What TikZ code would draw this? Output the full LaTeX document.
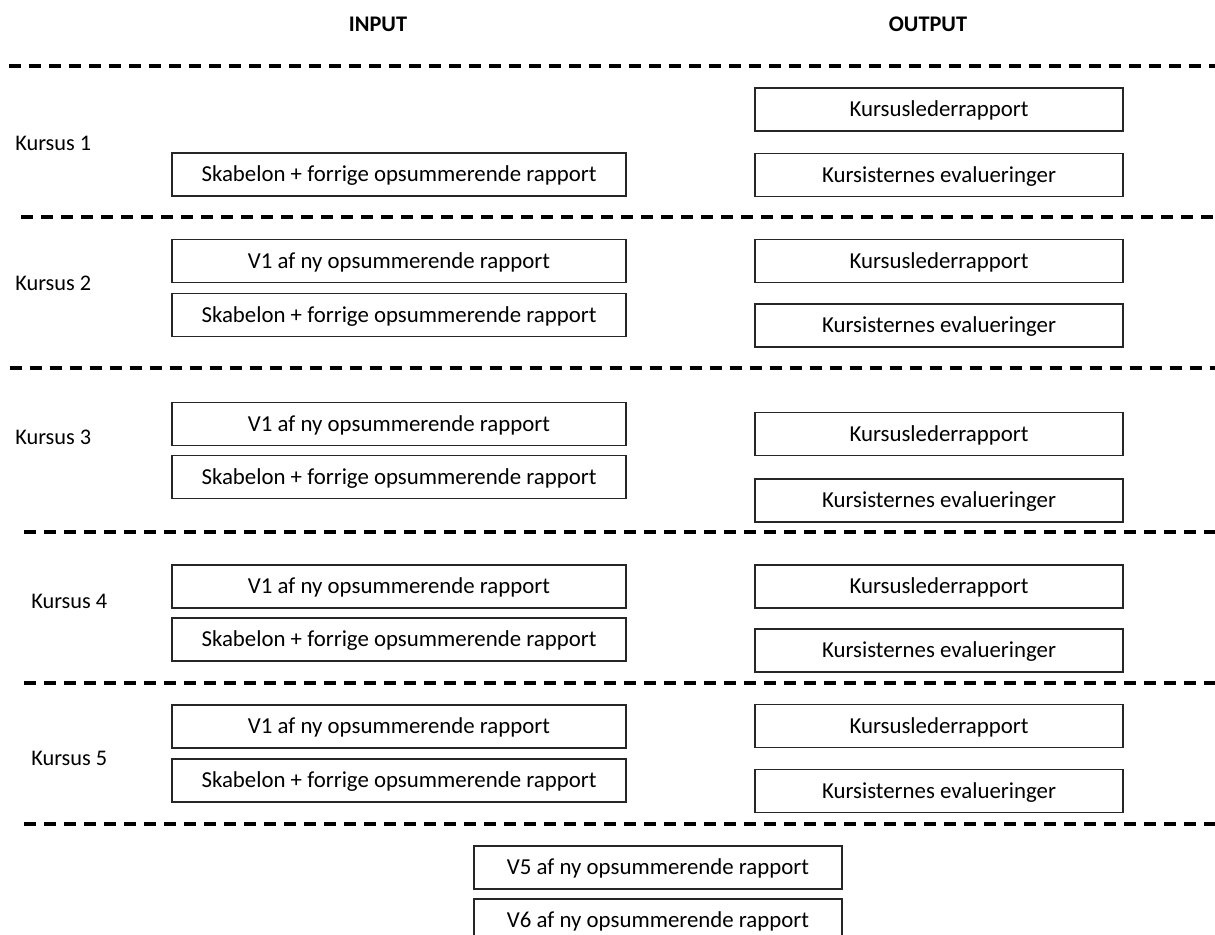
\documentclass[tikz,border=0pt]{standalone}
\usepackage{fontspec}
\setmainfont{Carlito}
\usepackage{tikz}

\tikzset{
  inbox/.style={draw=black!85, line width=0.7pt, inner sep=0pt, minimum width=9.08cm, minimum height=0.86cm, text height=12pt, text depth=3.5pt, font=\fontsize{13}{15.6}\selectfont},
  outbox/.style={inbox, minimum width=7.36cm},
  kursus/.style={anchor=west, inner sep=0pt, font=\fontsize{12.7}{15}\selectfont},
  head/.style={inner sep=0pt, font=\fontsize{12.7}{15}\selectfont\bfseries},
  skille/.style={line width=2pt, dash pattern=on 0.24cm off 0.16cm}
}

\begin{document}
\begin{tikzpicture}[x=0.02cm, y=-0.02cm]
\useasboundingbox (0,0) rectangle (1215,935);
% Headings
\node[head] (input) at (378,24) {INPUT};
\node[head] (output) at (928,24) {OUTPUT};
% Separators
\coordinate (s1a) at (9,66);   \coordinate (s1b) at (1220,66);
\coordinate (s2a) at (21,217); \coordinate (s2b) at (1220,217);
\coordinate (s3a) at (10,368); \coordinate (s3b) at (1220,368);
\coordinate (s4a) at (24,532); \coordinate (s4b) at (1220,532);
\coordinate (s5a) at (24,683); \coordinate (s5b) at (1220,683);
\coordinate (s6a) at (24,824); \coordinate (s6b) at (1220,824);
\draw[skille] (s1a) -- (s1b);
\draw[skille] (s2a) -- (s2b);
\draw[skille] (s3a) -- (s3b);
\draw[skille] (s4a) -- (s4b);
\draw[skille] (s5a) -- (s5b);
\draw[skille] (s6a) -- (s6b);
% Kursus 1
\node[kursus] (k1) at (15,143) {Kursus 1};
\node[inbox] (k1skab) at (399,174.5) {Skabelon + forrige opsummerende rapport};
\node[outbox] (k1leder) at (939,109.5) {Kursuslederrapport};
\node[outbox] (k1eval) at (939,175) {Kursisternes evalueringer};
% Kursus 2
\node[kursus] (k2) at (15,283) {Kursus 2};
\node[inbox] (k2v1) at (399,261) {V1 af ny opsummerende rapport};
\node[inbox] (k2skab) at (399,315) {Skabelon + forrige opsummerende rapport};
\node[outbox] (k2leder) at (939,261) {Kursuslederrapport};
\node[outbox] (k2eval) at (939,325.5) {Kursisternes evalueringer};
% Kursus 3
\node[kursus] (k3) at (15,437) {Kursus 3};
\node[inbox] (k3v1) at (399,424) {V1 af ny opsummerende rapport};
\node[inbox] (k3skab) at (399,477) {Skabelon + forrige opsummerende rapport};
\node[outbox] (k3leder) at (939,434) {Kursuslederrapport};
\node[outbox] (k3eval) at (939,500.5) {Kursisternes evalueringer};
% Kursus 4
\node[kursus] (k4) at (31,601) {Kursus 4};
\node[inbox] (k4v1) at (399,586.5) {V1 af ny opsummerende rapport};
\node[inbox] (k4skab) at (399,639.5) {Skabelon + forrige opsummerende rapport};
\node[outbox] (k4leder) at (939,586.5) {Kursuslederrapport};
\node[outbox] (k4eval) at (939,650.5) {Kursisternes evalueringer};
% Kursus 5
\node[kursus] (k5) at (31,758) {Kursus 5};
\node[inbox] (k5v1) at (399,726.5) {V1 af ny opsummerende rapport};
\node[inbox] (k5skab) at (399,780.5) {Skabelon + forrige opsummerende rapport};
\node[outbox] (k5leder) at (939,726) {Kursuslederrapport};
\node[outbox] (k5eval) at (939,791) {Kursisternes evalueringer};
% Final versions
\node[outbox] (v5) at (658,867.5) {V5 af ny opsummerende rapport};
\node[outbox] (v6) at (658,920.5) {V6 af ny opsummerende rapport};
\end{tikzpicture}
\end{document}
